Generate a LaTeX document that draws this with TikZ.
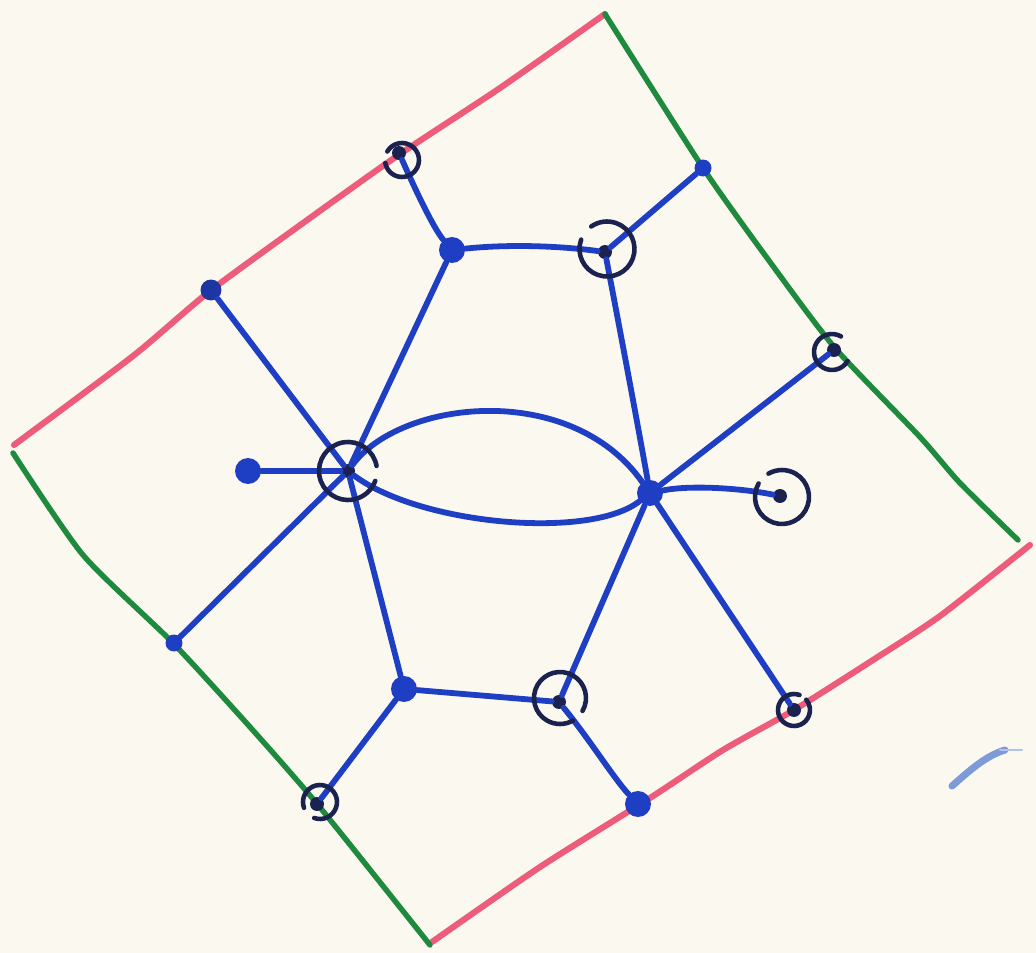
\documentclass[tikz,border=0pt]{standalone}
\usetikzlibrary{positioning}
\definecolor{paper}{HTML}{FBF9EF}
\definecolor{penblue}{HTML}{1E3EC4}
\definecolor{pennavy}{HTML}{1B2250}
\definecolor{penpink}{HTML}{EE5C7C}
\definecolor{pengreen}{HTML}{1E8A3E}
\definecolor{smudge}{HTML}{7F9AD8}
\tikzset{
  pinkedge/.style={draw=penpink,line width=3.5pt,line cap=round},
  greenedge/.style={draw=pengreen,line width=3.1pt,line cap=round},
  bond/.style={draw=penblue,line width=3.3pt,line cap=round},
  bluedot/.style={circle,fill=penblue,inner sep=0pt,minimum size=0.52cm},
  navydot/.style={circle,fill=pennavy,inner sep=0pt,minimum size=0.28cm},
  ring/.style={draw=pennavy,line width=2.6pt,line cap=round}
}

\begin{document}
\begin{tikzpicture}[x=0.02cm,y=-0.02cm]
  \fill[paper] (0,0) rectangle (1036,953);

  % border of the cell
  \draw[pinkedge] plot[smooth,tension=0.4] coordinates {(14,445) (133,356) (210,291) (310,218) (400,154) (500,88) (605,14)};
  \draw[greenedge] plot[smooth,tension=0.4] coordinates {(605,14) (703,168) (770,262) (835,348) (920,437) (960,483) (1018,540)};
  \draw[pinkedge] plot[smooth,tension=0.4] coordinates {(1030,545) (940,616) (873,660) (794,710) (723,750) (650,798) (540,867) (432,942)};
  \draw[greenedge] plot[smooth,tension=0.4] coordinates {(13,453) (83,555) (173,643) (250,727) (318,805) (430,945)};
  \draw[smudge,line width=4pt,line cap=round] (952,786) .. controls (968,772) and (985,756) .. (1005,750);
  \draw[smudge!60,line width=1.2pt,line cap=round] (1000,750) -- (1022,750);

  \node[navydot] (a) at (399,153) {};
  \node[bluedot,minimum size=0.42cm,fill=penblue!70!pennavy] (b) at (211,290) {};
  \node[bluedot] (c) at (452,250) {};
  \node[navydot] (d) at (605,252) {};
  \node[bluedot,minimum size=0.34cm] (e) at (703,168) {};
  \node[navydot] (f) at (834,350) {};
  \node[bluedot] (g) at (248,471) {};
  \node[navydot] (h) at (348,471) {};
  \node[bluedot] (i) at (650,493) {};
  \node[navydot] (j) at (780,496) {};
  \node[bluedot,minimum size=0.34cm] (k) at (174,643) {};
  \node[bluedot] (l) at (404,689) {};
  \node[navydot] (m) at (559,702) {};
  \node[navydot] (n) at (794,710) {};
  \node[navydot] (o) at (317,804) {};
  \node[bluedot] (p) at (638,804) {};

  \draw[bond] (a) .. controls (420,200) and (435,230) .. (c);
  \draw[bond] (c) .. controls (510,244) and (560,246) .. (d);
  \draw[bond] (d) -- (e);
  \draw[bond] (c) -- (h);
  \draw[bond] (b) -- (h);
  \draw[bond] (g) -- (h);
  \draw[bond] (h) -- (k);
  \draw[bond] (h) -- (l);
  \draw[bond] (d) .. controls (620,330) and (635,410) .. (i);
  \draw[bond] (h) .. controls (400,400) and (570,380) .. (i);
  \draw[bond] (h) .. controls (420,525) and (590,540) .. (i);
  \draw[bond] (i) -- (f);
  \draw[bond] (i) .. controls (690,485) and (740,488) .. (j);
  \draw[bond] (i) -- (m);
  \draw[bond] (i) -- (n);
  \draw[bond] (l) -- (m);
  \draw[bond] (l) -- (o);
  \draw[bond] (m) .. controls (590,740) and (615,780) .. (p);

  % rings
  \draw[ring] (a) ++(3,7) ++(190:0.34cm) arc[start angle=190,end angle=510,radius=0.34cm];
  \draw[ring] (d) ++(2,-3) ++(160:0.55cm) arc[start angle=160,end angle=485,radius=0.55cm];
  \draw[ring] (f) ++(-2,2) ++(60:0.36cm) arc[start angle=60,end angle=330,radius=0.36cm];
  \draw[ring] (h) ++(0,0) ++(10:0.58cm) arc[start angle=10,end angle=340,radius=0.58cm];
  \draw[ring] (j) ++(2,1) ++(150:0.54cm) arc[start angle=150,end angle=480,radius=0.54cm];
  \draw[ring] (m) ++(1,-4) ++(330:0.52cm) arc[start angle=330,end angle=660,radius=0.52cm];
  \draw[ring] (n) ++(0,0) ++(70:0.32cm) arc[start angle=70,end angle=400,radius=0.32cm];
  \draw[ring] (o) ++(3,-2) ++(250:0.34cm) arc[start angle=250,end angle=560,radius=0.34cm];
\end{tikzpicture}
\end{document}
